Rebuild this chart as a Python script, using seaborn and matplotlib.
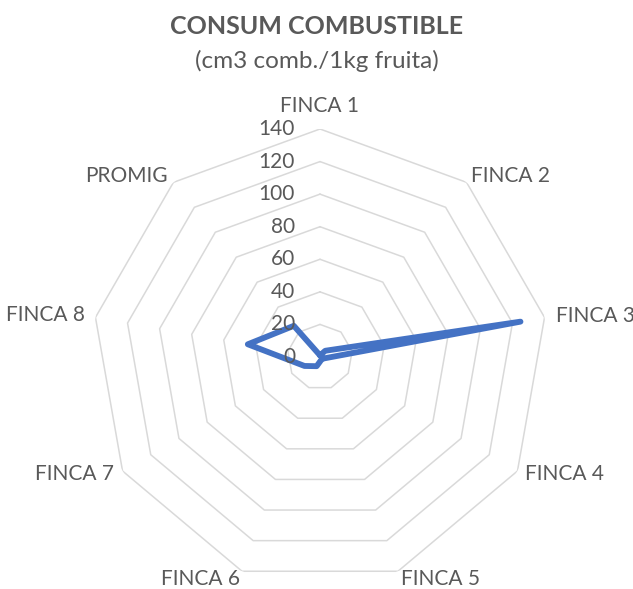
import numpy as np
import pandas as pd
import matplotlib
matplotlib.use('Agg')
import matplotlib.pyplot as plt
import seaborn as sns

# values
categories = ['FINCA 1', 'FINCA 2', 'FINCA 3', 'FINCA 4', 'FINCA 5',
              'FINCA 6', 'FINCA 7', 'FINCA 8', 'PROMIG']
consum = [1, 5, 125, 2, 2, 6, 11, 45, 25]
ring_ticks = [0, 20, 40, 60, 80, 100, 120, 140]

title = 'CONSUM COMBUSTIBLE'
subtitle = '(cm3 comb./1kg fruita)'

# label placement (pixel offsets from the outer vertex, alignment)
label_pos = [
    ((0, 17), 'center', 'baseline'),
    ((4, 6), 'left', 'center'),
    ((11, 1), 'left', 'center'),
    ((8, -3), 'left', 'center'),
    ((3, -8), 'left', 'center'),
    ((-2, -8), 'right', 'center'),
    ((-9, -3), 'right', 'center'),
    ((-11, 2), 'right', 'center'),
    ((-6, 6), 'right', 'center'),
]

sns.set_style('white')
plt.rcParams['font.family'] = ['Lato', 'DejaVu Sans']
text_color = '#595959'
grid_color = '#d9d9d9'
line_color = '#4472C4'

n = len(categories)
theta = np.arange(n) * 2 * np.pi / n
theta_closed = np.append(theta, theta[0])

fig = plt.figure(figsize=(6.33, 5.89), dpi=100)
cx, cy, rad = 320, 357, 228
W, H = 633, 589
ax = fig.add_axes([(cx - rad) / W, (H - cy - rad) / H, 2 * rad / W, 2 * rad / H],
                  projection='polar')
ax.set_theta_zero_location('N')
ax.set_theta_direction(-1)
ax.set_ylim(0, ring_ticks[-1])
ax.grid(False)
ax.spines['polar'].set_visible(False)
ax.set_xticks([])
ax.set_yticks([])
ax.patch.set_alpha(0)

# polygon rings like an Excel radar chart
for r in ring_ticks[1:]:
    ax.plot(theta_closed, [r] * (n + 1), color=grid_color, lw=1.1, zorder=1)

df = pd.DataFrame({'theta': theta_closed, 'valor': consum + consum[:1]})
sns.lineplot(data=df, x='theta', y='valor', ax=ax, sort=False, estimator=None,
             color=line_color, lw=4.2, zorder=3,
             solid_joinstyle='round', solid_capstyle='round')
ax.set_xlabel('')
ax.set_ylabel('')

for r in ring_ticks:
    ax.annotate(str(r), xy=(0, r), xytext=(-25, 0), textcoords='offset pixels',
                ha='right', va='center', fontsize=15, color=text_color,
                annotation_clip=False)

for t, lab, (off, ha, va) in zip(theta, categories, label_pos):
    ax.annotate(lab, xy=(t, ring_ticks[-1]), xytext=off, textcoords='offset pixels',
                ha=ha, va=va, fontsize=15, color=text_color, annotation_clip=False)

fig.text(0.5, 1 - 27 / H, title, ha='center', va='center', fontsize=18,
         fontweight='bold', color=text_color)
fig.text(0.5, 1 - 61 / H, subtitle, ha='center', va='center', fontsize=17.5,
         color=text_color)

plt.savefig('out.png', dpi=100)
